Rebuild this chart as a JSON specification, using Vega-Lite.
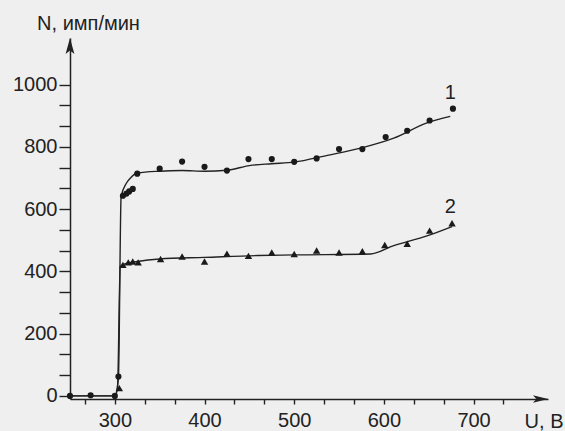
{
  "$schema": "https://vega.github.io/schema/vega-lite/v6.json",
  "width": 478,
  "height": 361,
  "autosize": {"type": "none"},
  "padding": {"left": 70, "top": 38, "right": 17, "bottom": 32},
  "background": "#efefef",
  "config": {"view": {"stroke": null}, "font": "Liberation Sans", "axis": {"labelOverlap": false}},
  "datasets": {
    "pts": [
      {"U": 250, "N": 0, "series": "1"},
      {"U": 273, "N": 2, "series": "1"},
      {"U": 300, "N": 0, "series": "1"},
      {"U": 304, "N": 62, "series": "1"},
      {"U": 309, "N": 643, "series": "1"},
      {"U": 313, "N": 650, "series": "1"},
      {"U": 316, "N": 657, "series": "1"},
      {"U": 320, "N": 665, "series": "1"},
      {"U": 325, "N": 714, "series": "1"},
      {"U": 350, "N": 730, "series": "1"},
      {"U": 375, "N": 753, "series": "1"},
      {"U": 400, "N": 736, "series": "1"},
      {"U": 425, "N": 724, "series": "1"},
      {"U": 449, "N": 761, "series": "1"},
      {"U": 475, "N": 761, "series": "1"},
      {"U": 500, "N": 752, "series": "1"},
      {"U": 525, "N": 763, "series": "1"},
      {"U": 550, "N": 793, "series": "1"},
      {"U": 576, "N": 793, "series": "1"},
      {"U": 602, "N": 832, "series": "1"},
      {"U": 626, "N": 852, "series": "1"},
      {"U": 651, "N": 885, "series": "1"},
      {"U": 677, "N": 923, "series": "1"},
      {"U": 305, "N": 25, "series": "2"},
      {"U": 309, "N": 421, "series": "2"},
      {"U": 315, "N": 429, "series": "2"},
      {"U": 320, "N": 432, "series": "2"},
      {"U": 326, "N": 429, "series": "2"},
      {"U": 351, "N": 440, "series": "2"},
      {"U": 375, "N": 448, "series": "2"},
      {"U": 400, "N": 432, "series": "2"},
      {"U": 425, "N": 457, "series": "2"},
      {"U": 449, "N": 450, "series": "2"},
      {"U": 475, "N": 461, "series": "2"},
      {"U": 500, "N": 456, "series": "2"},
      {"U": 525, "N": 467, "series": "2"},
      {"U": 550, "N": 461, "series": "2"},
      {"U": 576, "N": 465, "series": "2"},
      {"U": 601, "N": 485, "series": "2"},
      {"U": 626, "N": 489, "series": "2"},
      {"U": 651, "N": 531, "series": "2"},
      {"U": 676, "N": 555, "series": "2"}
    ],
    "fit": [
      {"U": 250, "N": 0, "series": "1"},
      {"U": 300, "N": 0, "series": "1"},
      {"U": 304, "N": 60, "series": "1"},
      {"U": 307, "N": 640, "series": "1"},
      {"U": 313, "N": 684, "series": "1"},
      {"U": 318, "N": 702, "series": "1"},
      {"U": 325, "N": 716, "series": "1"},
      {"U": 350, "N": 722, "series": "1"},
      {"U": 375, "N": 724, "series": "1"},
      {"U": 400, "N": 722, "series": "1"},
      {"U": 425, "N": 725, "series": "1"},
      {"U": 450, "N": 740, "series": "1"},
      {"U": 475, "N": 746, "series": "1"},
      {"U": 500, "N": 751, "series": "1"},
      {"U": 537, "N": 773, "series": "1"},
      {"U": 574, "N": 796, "series": "1"},
      {"U": 611, "N": 828, "series": "1"},
      {"U": 648, "N": 877, "series": "1"},
      {"U": 674, "N": 898, "series": "1"},
      {"U": 250, "N": 0, "series": "2"},
      {"U": 300, "N": 0, "series": "2"},
      {"U": 303, "N": 25, "series": "2"},
      {"U": 306, "N": 415, "series": "2"},
      {"U": 312, "N": 425, "series": "2"},
      {"U": 325, "N": 432, "series": "2"},
      {"U": 350, "N": 440, "series": "2"},
      {"U": 400, "N": 445, "series": "2"},
      {"U": 460, "N": 451, "series": "2"},
      {"U": 500, "N": 453, "series": "2"},
      {"U": 585, "N": 456, "series": "2"},
      {"U": 611, "N": 483, "series": "2"},
      {"U": 648, "N": 514, "series": "2"},
      {"U": 676, "N": 544, "series": "2"}
    ],
    "labels": [
      {"U": 674, "N": 973, "label": "1"},
      {"U": 674, "N": 606, "label": "2"}
    ],
    "yarrow": [{"U": 250, "N": 1150}],
    "xarrow": [{"U": 783, "N": -10}]
  },
  "encoding": {
    "x": {
      "field": "U", "type": "quantitative",
      "scale": {"domain": [250, 783], "nice": false, "zero": false},
      "axis": {
        "values": [266.6667, 300, 333.3333, 366.6667, 400, 433.3333, 466.6667, 500, 533.3333, 566.6667, 600, 633.3333, 666.6667, 700, 733.3333],
        "labelExpr": "abs(datum.value % 100) < 0.01 ? format(datum.value, 'd') : ''",
        "labelOverlap": false,
        "grid": false,
        "domainColor": "#222222", "domainWidth": 1.5,
        "tickColor": "#222222", "tickWidth": 1.4, "tickSize": 5,
        "encoding": {"ticks": {"update": {"y2": {"signal": "abs(datum.value % 100) < 0.01 ? 6 : 4"}}}},
        "labelFontSize": 20, "labelColor": "#222222", "labelPadding": 6,
        "title": "U, B", "titleFontSize": 20, "titleFontWeight": "normal", "titleColor": "#222222",
        "titleX": 493, "titleY": 22, "titleAlign": "right", "titleBaseline": "middle"
      }
    },
    "y": {
      "field": "N", "type": "quantitative",
      "scale": {"domain": [-10, 1150], "nice": false, "zero": false},
      "axis": {
        "values": [0, 66.6667, 133.3333, 200, 266.6667, 333.3333, 400, 466.6667, 533.3333, 600, 666.6667, 733.3333, 800, 866.6667, 933.3333, 1000],
        "labelExpr": "abs(datum.value % 200) < 0.01 ? format(datum.value, 'd') : ''",
        "labelOverlap": false,
        "grid": false,
        "domainColor": "#222222", "domainWidth": 1.5,
        "tickColor": "#222222", "tickWidth": 1.4, "tickSize": 11,
        "encoding": {"ticks": {"update": {"x2": {"signal": "abs(datum.value % 200) < 0.01 ? -11 : -5"}}}},
        "labelFontSize": 20, "labelColor": "#222222", "labelPadding": 2,
        "title": "N, имп/мин", "titleFontSize": 20, "titleFontWeight": "normal", "titleColor": "#222222",
        "titleAngle": 0, "titleX": 18, "titleY": -15, "titleAlign": "center", "titleBaseline": "middle"
      }
    }
  },
  "layer": [
    {
      "data": {"name": "fit"},
      "mark": {"type": "line", "interpolate": "monotone", "color": "#222222", "strokeWidth": 1.4, "clip": false},
      "encoding": {"detail": {"field": "series"}}
    },
    {
      "data": {"name": "pts"},
      "transform": [{"filter": "datum.series === '1'"}],
      "mark": {"type": "point", "shape": "circle", "filled": true, "size": 38, "color": "#1a1a1a", "opacity": 1}
    },
    {
      "data": {"name": "pts"},
      "transform": [{"filter": "datum.series === '2'"}],
      "mark": {"type": "point", "shape": "triangle-up", "filled": true, "size": 55, "color": "#1a1a1a", "opacity": 1}
    },
    {
      "data": {"name": "labels"},
      "mark": {"type": "text", "fontSize": 20, "color": "#222222", "align": "center", "baseline": "middle"},
      "encoding": {"text": {"field": "label"}}
    },
    {
      "data": {"name": "yarrow"},
      "mark": {"type": "point", "shape": "M0,0L0.55,2L0,1.55L-0.55,2Z", "filled": true, "size": 256, "color": "#222222", "opacity": 1, "clip": false}
    },
    {
      "data": {"name": "xarrow"},
      "mark": {"type": "point", "shape": "M0,0L-2,-0.5L-1.55,0L-2,0.5Z", "filled": true, "size": 225, "color": "#222222", "opacity": 1, "clip": false}
    }
  ]
}
